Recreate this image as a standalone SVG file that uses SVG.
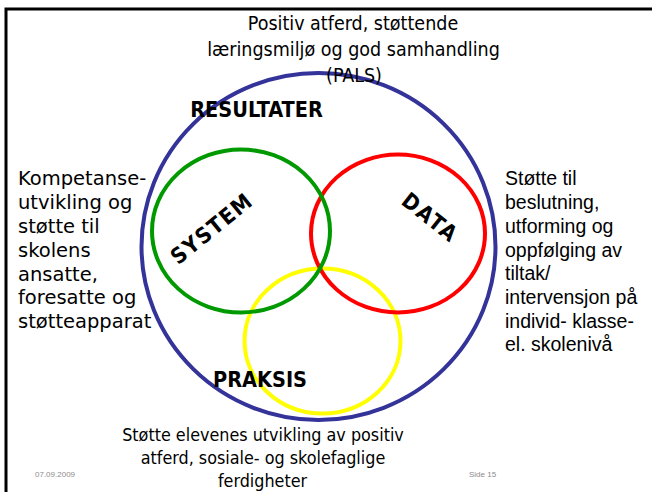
<svg xmlns="http://www.w3.org/2000/svg" width="652" height="492" viewBox="0 0 652 492">
<style>
.ring{fill:none;stroke-width:4}
.cap{font-family:"DejaVu Sans Condensed","DejaVu Sans",sans-serif;font-stretch:condensed;fill:#000}
.lbl{font-family:"DejaVu Sans Condensed","DejaVu Sans",sans-serif;font-stretch:condensed;font-weight:bold;fill:#000}
.left{font-family:"DejaVu Sans",Verdana,sans-serif;font-size:19.5px;fill:#000}
.right{font-family:"Liberation Sans",Arial,sans-serif;font-size:19.5px;fill:#000}
.foot{font-family:"Liberation Sans",Arial,sans-serif;font-size:8px;fill:#8c8c8c}
</style>
<rect x="0" y="0" width="652" height="492" fill="#fff"/>
<rect x="6" y="9" width="700" height="520" fill="none" stroke="#000" stroke-width="3"/>
<g id="resultater">
<ellipse class="ring" cx="318.5" cy="246.5" rx="177" ry="173.5" stroke="#333399"/>
<text class="lbl" x="256.5" y="117" font-size="21.5" text-anchor="middle">RESULTATER</text>
</g>
<g id="praksis">
<ellipse class="ring" cx="322.5" cy="341" rx="78" ry="72.5" stroke="#ffff00"/>
<text class="lbl" x="260" y="387" font-size="21.5" text-anchor="middle">PRAKSIS</text>
</g>
<g id="data">
<ellipse class="ring" cx="398" cy="233.5" rx="87" ry="79" stroke="#ff0000"/>
<text class="lbl" transform="translate(425.5,223.5) rotate(38.5)" font-size="22" text-anchor="middle" letter-spacing="2">DATA</text>
</g>
<g id="system">
<ellipse class="ring" cx="241" cy="231" rx="89" ry="81.5" stroke="#009900"/>
<text class="lbl" transform="translate(216.5,234.5) rotate(-39)" font-size="22" text-anchor="middle" letter-spacing="1.5">SYSTEM</text>
</g>
<g id="top-text">
<text class="cap" font-size="19.5" text-anchor="middle"><tspan x="353" y="30">Positiv atferd, støttende</tspan><tspan x="353.5" y="56">læringsmiljø og god samhandling</tspan><tspan x="354" y="82">(PALS)</tspan></text>
</g>
<g id="left-text">
<text class="left"><tspan x="18" y="185">Kompetanse-</tspan><tspan x="18" y="209">utvikling og</tspan><tspan x="18" y="233">støtte til</tspan><tspan x="18" y="257">skolens</tspan><tspan x="18" y="280.5">ansatte,</tspan><tspan x="18" y="304">foresatte og</tspan><tspan x="18" y="328">støtteapparat</tspan></text>
</g>
<g id="right-text">
<text class="right"><tspan x="505" y="185">Støtte til</tspan><tspan x="505" y="209">beslutning,</tspan><tspan x="505" y="233">utforming og</tspan><tspan x="505" y="256.5">oppfølging av</tspan><tspan x="505" y="280">tiltak/</tspan><tspan x="505" y="304">intervensjon på</tspan><tspan x="505" y="327.5">individ- klasse-</tspan><tspan x="505" y="350.5">el. skolenivå</tspan></text>
</g>
<g id="bottom-text">
<text class="cap" font-size="17.8" text-anchor="middle"><tspan x="263" y="441">Støtte elevenes utvikling av positiv</tspan><tspan x="263" y="464">atferd, sosiale- og skolefaglige</tspan><tspan x="262.5" y="487">ferdigheter</tspan></text>
</g>
<g id="footer">
<text class="foot" x="35" y="477">07.09.2009</text>
<text class="foot" x="469" y="477">Side 15</text>
</g>
<g id="connectors"></g>
</svg>
